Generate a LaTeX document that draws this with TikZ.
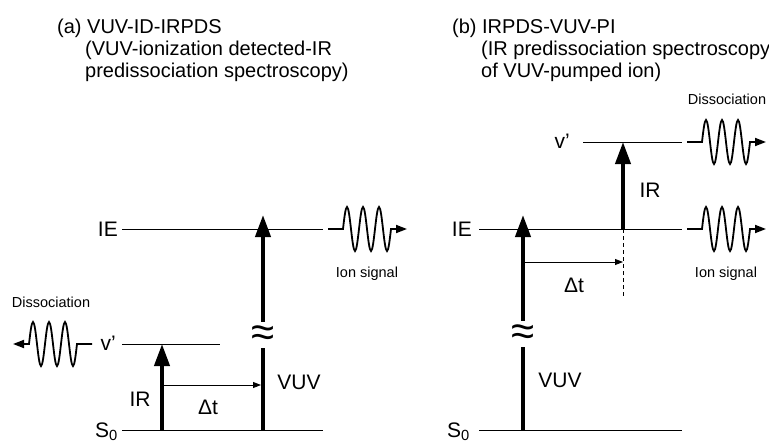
\documentclass[tikz,border=0pt]{standalone}
\usepackage{fontspec}
\setmainfont{Liberation Sans}
\usetikzlibrary{arrows.meta, positioning, calc}

\begin{document}
\begin{tikzpicture}[
  x=1pt, y=-1pt,
  level/.style={line width=0.9pt},
  lbl/.style={font=\fontsize{21}{24}\selectfont, inner sep=0pt},
  small/.style={font=\fontsize{14.5}{17}\selectfont, inner sep=0pt},
  ttl/.style={font=\fontsize{20}{22}\selectfont, inner sep=0pt, anchor=base west},
  photon/.style={line width=4pt, -{Triangle[length=22pt, width=15pt]}},
  delay/.style={line width=0.9pt, -{Triangle[length=8pt, width=6pt]}},
  brk/.style={fill=white, inner xsep=0pt, inner ysep=2pt, text height=22pt,
              text depth=0pt, font=\fontsize{42}{42}\selectfont},
  wave/.pic={\draw[line width=1.8pt, -{Triangle[length=11pt, width=8pt]}]
    (0,0) -- (15,0) \foreach \k in {1,2,3} {sin ++(4,-22) cos ++(4,22)
    sin ++(4,22) cos ++(4,-22)} -- ++(16,0);}
]
  \useasboundingbox (0,0) rectangle (769,442);

  % titles
  \node[ttl] (tA1) at (57,33) {(a) VUV-ID-IRPDS};
  \node[ttl] (tA2) at (85,55) {(VUV-ionization detected-IR};
  \node[ttl] (tA3) at (85,77) {predissociation spectroscopy)};
  \node[ttl] (tB1) at (452,33) {(b) IRPDS-VUV-PI};
  \node[ttl] (tB2) at (481,55) {(IR predissociation spectroscopy};
  \node[ttl] (tB3) at (481,77) {of VUV-pumped ion)};

  % (a) levels
  \coordinate (ieA-w) at (122,229);  \coordinate (ieA-e) at (323,229);
  \coordinate (vpA-w) at (122,344);  \coordinate (vpA-e) at (220,344);
  \coordinate (s0A-w) at (122,430);  \coordinate (s0A-e) at (323,430);
  \draw[level] (ieA-w) -- (ieA-e);
  \draw[level] (vpA-w) -- (vpA-e);
  \draw[level] (s0A-w) -- (s0A-e);
  \node[lbl, anchor=east] (ieA) at (118,229) {IE};
  \node[lbl, anchor=base east] (vpA) at (116,350) {v’};
  \node[lbl, anchor=base east] (s0A) at (118,437) {S\textsubscript{0}};

  % (a) transitions
  \coordinate (irA-0) at (162,430);  \coordinate (irA-1) at (162,344);
  \coordinate (vuvA-0) at (263,430); \coordinate (vuvA-1) at (263,215);
  \coordinate (dtA-0) at (162,385);  \coordinate (dtA-1) at (261,385);
  \draw[photon] (irA-0) -- (irA-1);
  \draw[photon] (vuvA-0) -- (vuvA-1);
  \node[brk] (brkA) at (263,335) {≈};
  \draw[delay] (dtA-0) -- (dtA-1);
  \node[lbl] (irAl) at (140,399) {IR};
  \node[lbl] (vuvAl) at (299,382) {VUV};
  \node[lbl] (dtAl) at (208,407) {Δt};

  % (a) signals
  \pic at (328,229) {wave};
  \node[small, anchor=base] (ionA) at (367,277) {Ion signal};
  \pic[rotate=180] at (92,344) {wave};
  \node[small] (disA) at (51,302) {Dissociation};

  % (b) levels
  \coordinate (vpB-w) at (583,142);  \coordinate (vpB-e) at (682,142);
  \coordinate (ieB-w) at (479,229);  \coordinate (ieB-e) at (682,229);
  \coordinate (s0B-w) at (479,430);  \coordinate (s0B-e) at (682,430);
  \draw[level] (vpB-w) -- (vpB-e);
  \draw[level] (ieB-w) -- (ieB-e);
  \draw[level] (s0B-w) -- (s0B-e);
  \node[lbl, anchor=base east] (vpB) at (570,148) {v’};
  \node[lbl, anchor=east] (ieB) at (472,229) {IE};
  \node[lbl, anchor=base east] (s0B) at (470,437) {S\textsubscript{0}};

  % (b) transitions
  \coordinate (vuvB-0) at (523,430); \coordinate (vuvB-1) at (523,215);
  \coordinate (irB-0) at (623,229);  \coordinate (irB-1) at (623,142);
  \coordinate (dashB) at (623,298);
  \coordinate (dtB-0) at (525,262);  \coordinate (dtB-1) at (623,262);
  \draw[photon] (vuvB-0) -- (vuvB-1);
  \node[brk] (brkB) at (523,334) {≈};
  \draw[photon] (irB-0) -- (irB-1);
  \draw[level, dash pattern=on 4pt off 3pt] (irB-0) -- (dashB);
  \draw[delay] (dtB-0) -- (dtB-1);
  \node[lbl] (vuvBl) at (560,380) {VUV};
  \node[lbl] (irBl) at (650,190) {IR};
  \node[lbl] (dtBl) at (574,285) {Δt};

  % (b) signals
  \pic at (687,142) {wave};
  \node[small] (disB) at (727,99) {Dissociation};
  \pic at (687,229) {wave};
  \node[small, anchor=base] (ionB) at (726,277) {Ion signal};
\end{tikzpicture}
\end{document}
